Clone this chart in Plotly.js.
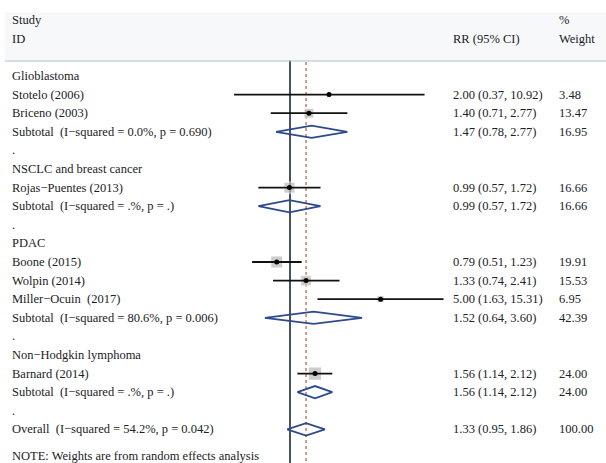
<!DOCTYPE html>
<html>
<head>
<meta charset="utf-8">
<script src="https://cdn.plot.ly/plotly-3.0.1.min.js"></script>
<style>html,body{margin:0;padding:0;background:#fff;}#chart{width:606px;height:463px;}</style>
</head>
<body>
<div id="chart"></div>
<script>
// ---- Data ----
const studyLabels = ["Stotelo (2006)", "Briceno (2003)", "Rojas\u2212Puentes (2013)", "Boone (2015)", "Wolpin (2014)", "Miller\u2212Ocuin\u00a0 (2017)", "Barnard (2014)"];
const studyRows = [1, 2, 6, 10, 11, 12, 16];
const studyRR = [2.00, 1.40, 0.99, 0.79, 1.33, 5.00, 1.56];
const studyLo = [0.37, 0.71, 0.57, 0.51, 0.74, 1.63, 1.14];
const studyHi = [10.92, 2.77, 1.72, 1.23, 2.41, 15.31, 2.12];
const studyWeight = ["3.48", "13.47", "16.66", "19.91", "15.53", "6.95", "24.00"];

const subLabels = ["Subtotal\u00a0 (I\u2212squared = 0.0%, p = 0.690)", "Subtotal\u00a0 (I\u2212squared = .%, p = .)", "Subtotal\u00a0 (I\u2212squared = 80.6%, p = 0.006)", "Subtotal\u00a0 (I\u2212squared = .%, p = .)", "Overall\u00a0 (I\u2212squared = 54.2%, p = 0.042)"];
const subRows = [3, 7, 13, 17, 19];
const subRR = [1.47, 0.99, 1.52, 1.56, 1.33];
const subLo = [0.78, 0.57, 0.64, 1.14, 0.95];
const subHi = [2.77, 1.72, 3.60, 2.12, 1.86];
const subWeight = ["16.95", "16.66", "42.39", "24.00", "100.00"];

const groupLabels = ["Glioblastoma", "NSCLC and breast cancer", "PDAC", "Non\u2212Hodgkin lymphoma"];
const groupRows = [0, 5, 9, 15];
const dotRows = [4, 8, 14, 18];
const noteText = "NOTE: Weights are from random effects analysis";
const nullValue = 1;
const overallRR = subRR[subRR.length - 1];

// ---- Layout constants ----
const W = 606, H = 463;
const row0px = 76, rowStep = 18.6;
const noteRow = (456 - row0px) / rowStep;
const xOne = 290, pxPerDecade = 129.6;
const xRange = [-xOne / pxPerDecade, (W - xOne) / pxPerDecade];
const yRange = [(H - row0px) / rowStep, -row0px / rowStep];
const sepRow = (61 - row0px) / rowStep;
const lineTop = (60.5 - row0px) / rowStep;
const lineBottom = yRange[0] + 0.5;
const fontFam = "Liberation Serif, Times New Roman, serif";
const txtColor = "#1a2226";
const fs = 12.5;
const colLabel = 10 / W, colRR = 451 / W, colWt = 557 / W;

const fmt = v => v.toFixed(2);
const ciText = (e, l, h) => fmt(e) + " (" + fmt(l) + ", " + fmt(h) + ")";

const traces = [];
// reference lines
traces.push({x: [nullValue, nullValue], y: [lineTop, lineBottom], mode: "lines", line: {color: "#1c2838", width: 1.6}, hoverinfo: "skip"});
traces.push({x: [overallRR, overallRR], y: [lineTop + 0.08, lineBottom], mode: "lines", line: {color: "#c0735f", width: 1.4, dash: "3px,3px"}, hoverinfo: "skip"});
// weight squares
traces.push({x: studyRR, y: studyRows, mode: "markers", marker: {symbol: "square", color: "#b9b9b9", size: studyWeight.map(w => 2.7 * Math.sqrt(parseFloat(w)))}, hoverinfo: "skip"});
// CI lines
const cx = [], cy = [];
studyRows.forEach((r, i) => { cx.push(studyLo[i], studyHi[i], null); cy.push(r, r, null); });
traces.push({x: cx, y: cy, mode: "lines", line: {color: "#111", width: 1.8}, hoverinfo: "skip"});
// point estimates
traces.push({x: studyRR, y: studyRows, mode: "markers", marker: {symbol: "circle", color: "#000", size: 5}, hoverinfo: "skip"});
// diamonds
const dh = 0.33;
subRows.forEach((r, i) => {
  traces.push({x: [subLo[i], subRR[i], subHi[i], subRR[i], subLo[i]], y: [r, r - dh, r, r + dh, r], mode: "lines", line: {color: "#2c4a8c", width: 1.8}, hoverinfo: "skip"});
});

const ann = [];
const addText = (x, y, t) => ann.push({xref: "paper", yref: "y", x: x, y: y, text: t, showarrow: false, xanchor: "left", yanchor: "middle", font: {family: fontFam, size: fs, color: txtColor}});
addText(colLabel, -3, "Study");
addText(colLabel, -2, "ID");
addText(colRR, -2, "RR (95% CI)");
addText(colWt, -3, "%");
addText(colWt, -2, "Weight");
groupRows.forEach((r, i) => addText(colLabel, r, groupLabels[i]));
dotRows.forEach(r => addText(colLabel, r, "."));
studyRows.forEach((r, i) => { addText(colLabel, r, studyLabels[i]); addText(colRR, r, ciText(studyRR[i], studyLo[i], studyHi[i])); addText(colWt, r, studyWeight[i]); });
subRows.forEach((r, i) => { addText(colLabel, r, subLabels[i]); addText(colRR, r, ciText(subRR[i], subLo[i], subHi[i])); addText(colWt, r, subWeight[i]); });
addText(colLabel, noteRow, noteText);

const layout = {
  width: W, height: H,
  margin: {l: 0, r: 0, t: 0, b: 0, pad: 0},
  paper_bgcolor: "#ffffff", plot_bgcolor: "#ffffff",
  showlegend: false,
  xaxis: {type: "log", range: xRange, visible: false, fixedrange: true},
  yaxis: {range: yRange, visible: false, fixedrange: true},
  annotations: ann,
  shapes: [
    {type: "rect", xref: "paper", yref: "y", x0: 5 / W, x1: 1, y0: (12.5 - row0px) / rowStep, y1: sepRow, fillcolor: "#f6f8fa", line: {width: 0}, layer: "below"},
    {type: "line", xref: "paper", yref: "y", x0: 5 / W, x1: 1, y0: sepRow, y1: sepRow, line: {color: "#a9c2cc", width: 1.2}}
  ]
};

Plotly.newPlot("chart", traces, layout, {staticPlot: true, displayModeBar: false});
</script>
</body>
</html>
